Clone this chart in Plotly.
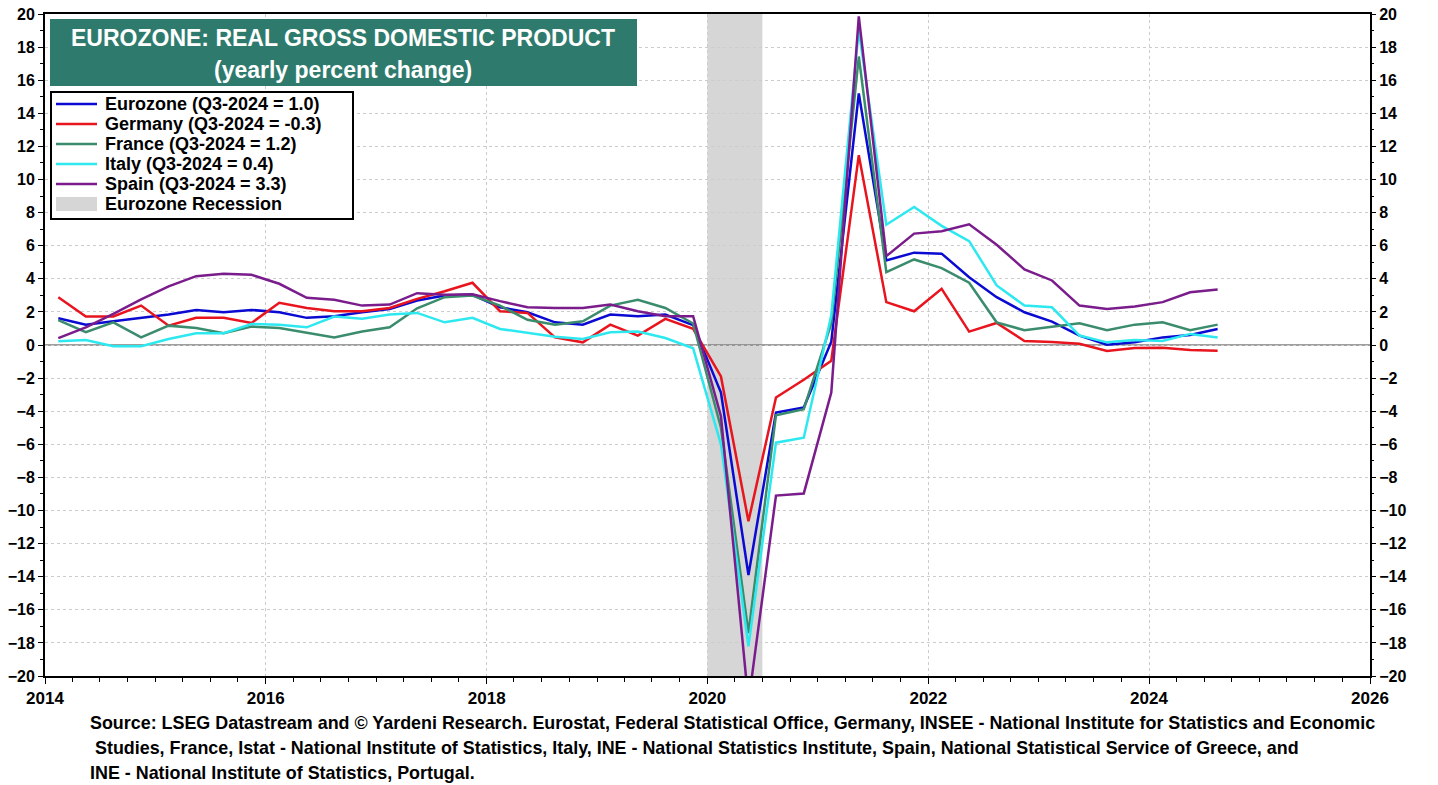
import pandas as pd
import plotly.graph_objects as go

# ---- data (yearly % change of real GDP, quarterly, Q1-2014 .. Q3-2024) ----
start_quarter = "2014Q1"
end_quarter = "2024Q3"

eurozone = [1.62, 1.23, 1.43, 1.62, 1.84, 2.12, 1.98, 2.12, 1.98, 1.64, 1.74, 1.98,
            2.18, 2.69, 2.99, 3.03, 2.28, 1.98, 1.37, 1.23, 1.84, 1.74, 1.84, 1.20,
            -2.87, -13.9, -4.08, -3.78, 0.20, 15.2, 5.11, 5.58, 5.52, 4.10, 2.89, 1.98,
            1.41, 0.57, 0.02, 0.16, 0.46, 0.61, 0.97]
germany = [2.89, 1.72, 1.72, 2.38, 1.17, 1.64, 1.64, 1.33, 2.55, 2.24, 2.04, 2.04,
           2.24, 2.79, 3.25, 3.76, 2.04, 1.94, 0.46, 0.16, 1.23, 0.57, 1.58, 0.98,
           -1.90, -10.65, -3.17, -2.10, -0.95, 11.47, 2.59, 2.04, 3.39, 0.81, 1.33, 0.24,
           0.18, 0.08, -0.36, -0.18, -0.16, -0.30, -0.34]
france = [1.50, 0.77, 1.37, 0.46, 1.17, 1.03, 0.71, 1.11, 1.03, 0.73, 0.46, 0.81,
          1.07, 2.22, 2.89, 2.99, 2.38, 1.52, 1.23, 1.43, 2.38, 2.73, 2.24, 1.30,
          -5.00, -17.4, -4.24, -3.88, 1.30, 17.43, 4.40, 5.17, 4.65, 3.76, 1.37, 0.89,
          1.11, 1.31, 0.89, 1.23, 1.37, 0.89, 1.23]
italy = [0.22, 0.30, -0.08, -0.08, 0.36, 0.71, 0.71, 1.27, 1.23, 1.07, 1.72, 1.58,
         1.84, 1.94, 1.37, 1.64, 0.97, 0.73, 0.50, 0.36, 0.77, 0.81, 0.42, -0.20,
         -6.00, -18.2, -5.90, -5.60, 1.80, 19.05, 7.27, 8.34, 7.20, 6.28, 3.60, 2.38,
         2.28, 0.57, 0.16, 0.30, 0.24, 0.67, 0.46]
spain = [0.42, 1.07, 1.88, 2.75, 3.54, 4.16, 4.30, 4.24, 3.70, 2.85, 2.73, 2.38,
         2.44, 3.13, 3.03, 3.07, 2.65, 2.28, 2.24, 2.24, 2.44, 2.04, 1.74, 1.74,
         -4.30, -21.6, -9.10, -8.97, -2.87, 19.86, 5.37, 6.73, 6.87, 7.29, 6.06, 4.57,
         3.90, 2.38, 2.18, 2.32, 2.59, 3.19, 3.35]

series_names = ["Eurozone (Q3-2024 = 1.0)", "Germany (Q3-2024 = -0.3)",
                "France (Q3-2024 = 1.2)", "Italy (Q3-2024 = 0.4)",
                "Spain (Q3-2024 = 3.3)"]
series_values = [eurozone, germany, france, italy, spain]
series_colors = ["#0A0AD2", "#E8141E", "#3A8C6C", "#2EE8F0", "#7A1C8C"]

recession = ["2020-01-01", "2020-07-01"]
recession_name = "Eurozone Recession"
y_ticks = list(range(-20, 21, 2))
x_ticks = ["2014-01-01", "2016-01-01", "2018-01-01", "2020-01-01",
           "2022-01-01", "2024-01-01", "2026-01-01"]
x_tick_labels = ["2014", "2016", "2018", "2020", "2022", "2024", "2026"]

title_line1 = "EUROZONE: REAL GROSS DOMESTIC PRODUCT"
title_line2 = "(yearly percent change)"
source_lines = [
    "Source: LSEG Datastream and © Yardeni Research. Eurostat, Federal Statistical Office, Germany, INSEE - National Institute for Statistics and Economic",
    "Studies, France, Istat - National Institute of Statistics, Italy, INE - National Statistics Institute, Spain, National Statistical Service of Greece, and",
    "INE - National Institute of Statistics, Portugal.",
]

# mid-quarter dates
periods = pd.period_range(start_quarter, end_quarter, freq="Q")
dates = [(p.start_time + (p.end_time - p.start_time) / 2).floor("D").strftime("%Y-%m-%d")
         for p in periods]

FONT = "Liberation Sans, Arial, sans-serif"
SHADE = "#D6D6D6"
GRID = "#CCCCCC"

# plot area in page pixels (for placing paper-referenced decorations)
PX_L, PX_R, PX_T, PX_B = 45, 1370, 14, 676


def px(xpix):
    return (xpix - PX_L) / (PX_R - PX_L)


def py(ypix):
    return (PX_B - ypix) / (PX_B - PX_T)


fig = go.Figure()
for name, vals, col in zip(series_names, series_values, series_colors):
    fig.add_trace(go.Scatter(x=dates, y=vals, mode="lines", name=name, showlegend=False,
                             line=dict(color=col, width=2.5), hoverinfo="skip"))
# invisible trace to activate the right-hand axis
fig.add_trace(go.Scatter(x=dates, y=eurozone, yaxis="y2", mode="lines",
                         line=dict(width=0, color="rgba(0,0,0,0)"), showlegend=False,
                         hoverinfo="skip"))

# recession shading, then the zero line on top of it
fig.add_shape(type="rect", xref="x", yref="paper", x0=recession[0], x1=recession[1],
              y0=0, y1=1, fillcolor=SHADE, line=dict(width=0), layer="between")
fig.add_shape(type="line", xref="paper", yref="y", x0=0, x1=1, y0=0, y1=0,
              line=dict(color="#7F7F7F", width=1.5), layer="between")

# title box
fig.add_shape(type="rect", xref="paper", yref="paper", x0=px(50), x1=px(637),
              y0=py(86), y1=py(19), fillcolor="#2E7B6E", line=dict(width=0), layer="above")
fig.add_annotation(xref="paper", yref="paper", x=px(343), y=py(38), text="<b>" + title_line1 + "</b>",
                   showarrow=False, font=dict(family=FONT, size=23, color="white"),
                   xanchor="center", yanchor="middle")
fig.add_annotation(xref="paper", yref="paper", x=px(343), y=py(70), text="<b>" + title_line2 + "</b>",
                   showarrow=False, font=dict(family=FONT, size=23, color="white"),
                   xanchor="center", yanchor="middle")

# legend box (drawn by hand to reproduce the compact row spacing)
fig.add_shape(type="rect", xref="paper", yref="paper", x0=px(51), x1=px(353),
              y0=py(219), y1=py(92), fillcolor="white", line=dict(color="black", width=2),
              layer="above")
row_y = [104, 124, 144, 164, 184, 204]
for name, col, ry in zip(series_names, series_colors, row_y):
    fig.add_shape(type="line", xref="paper", yref="paper", x0=px(56), x1=px(97),
                  y0=py(ry), y1=py(ry), line=dict(color=col, width=2.5), layer="above")
    fig.add_annotation(xref="paper", yref="paper", x=px(103), y=py(ry), text="<b>" + name + "</b>",
                       showarrow=False, xanchor="left", yanchor="middle",
                       font=dict(family=FONT, size=18, color="black"))
fig.add_shape(type="rect", xref="paper", yref="paper", x0=px(56), x1=px(97),
              y0=py(row_y[5] + 7), y1=py(row_y[5] - 7), fillcolor=SHADE, line=dict(width=0),
              layer="above")
fig.add_annotation(xref="paper", yref="paper", x=px(103), y=py(row_y[5]), text="<b>" + recession_name + "</b>",
                   showarrow=False, xanchor="left", yanchor="middle",
                   font=dict(family=FONT, size=18, color="black"))

src_y = [723, 748, 773]
src_x = [88, 93, 88]
for txt, yy, xx in zip(source_lines, src_y, src_x):
    fig.add_annotation(xref="paper", yref="paper", x=px(xx), y=py(yy), text="<b>" + txt + "</b>",
                       showarrow=False, xanchor="left", yanchor="middle",
                       font=dict(family=FONT, size=17.9, color="black"))

xfont = dict(family=FONT, size=17, color="black", weight="bold")
yfont = dict(family=FONT, size=16, color="black", weight="bold")
fig.update_layout(
    width=1430, height=777,
    margin=dict(l=37, r=68, t=6, b=109, autoexpand=False),
    paper_bgcolor="white", plot_bgcolor="white",
    font=dict(family=FONT, color="black"),
    showlegend=False,
    xaxis=dict(type="date", range=["2014-01-01", "2026-01-01"], automargin=False,
               tickvals=x_ticks, ticktext=x_tick_labels, tickfont=xfont,
               ticklabeloverflow="allow",
               ticks="outside", ticklen=6, tickcolor="black", tickwidth=1,
               showgrid=True, gridcolor=GRID, griddash="dot", gridwidth=1,
               minor=dict(dtick="M3", ticks="outside", ticklen=4, tickcolor="black", showgrid=False),
               showline=True, linecolor="black", linewidth=2, mirror=True,
               zeroline=False),
    yaxis=dict(range=[-20, 20], tickvals=y_ticks, tickfont=yfont, automargin=False,
               ticklabeloverflow="allow",
               ticks="outside", ticklen=5, tickcolor="black",
               showgrid=True, gridcolor=GRID, griddash="dot", gridwidth=1,
               minor=dict(dtick=1, ticks="outside", ticklen=3, tickcolor="black", showgrid=False),
               zeroline=False,
               showline=True, linecolor="black", linewidth=2, mirror=True),
    yaxis2=dict(range=[-20, 20], tickvals=y_ticks, tickfont=yfont, overlaying="y", automargin=False,
                ticklabeloverflow="allow",
                side="right", ticks="outside", ticklen=5, tickcolor="black",
                minor=dict(dtick=1, ticks="outside", ticklen=3, tickcolor="black"),
                showgrid=False, zeroline=False, showline=False),
)

fig.write_html("out.html")
